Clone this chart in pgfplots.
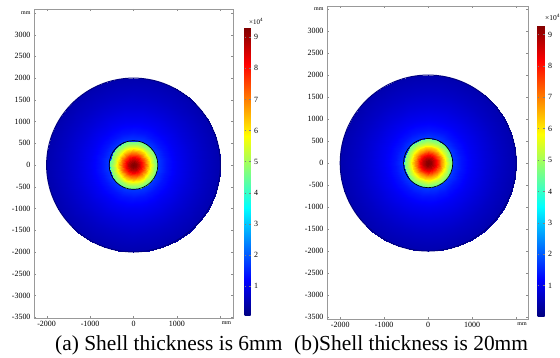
\documentclass[border=0pt]{standalone}
\usepackage{pgfplots}
\pgfplotsset{compat=1.18}
\usepackage{pgfplotstable}
\usepackage{fontspec}
\setmainfont{Liberation Serif}

\pgfplotstableread{
a r c
0 0 9.30
0 60 9.15
0 120 8.75
0 180 8.20
0 240 7.55
0 300 6.85
0 360 6.15
0 420 5.50
0 490 4.90
0 560 4.45
0 561 1.70
0 750 1.35
0 1000 1.08
0 1300 0.85
0 1600 0.66
0 2008 0.45
10 0 9.30
10 60 9.15
10 120 8.75
10 180 8.20
10 240 7.55
10 300 6.85
10 360 6.15
10 420 5.50
10 490 4.90
10 560 4.45
10 561 1.70
10 750 1.35
10 1000 1.08
10 1300 0.85
10 1600 0.66
10 2008 0.45
20 0 9.30
20 60 9.15
20 120 8.75
20 180 8.20
20 240 7.55
20 300 6.85
20 360 6.15
20 420 5.50
20 490 4.90
20 560 4.45
20 561 1.70
20 750 1.35
20 1000 1.08
20 1300 0.85
20 1600 0.66
20 2008 0.45
30 0 9.30
30 60 9.15
30 120 8.75
30 180 8.20
30 240 7.55
30 300 6.85
30 360 6.15
30 420 5.50
30 490 4.90
30 560 4.45
30 561 1.70
30 750 1.35
30 1000 1.08
30 1300 0.85
30 1600 0.66
30 2008 0.45
40 0 9.30
40 60 9.15
40 120 8.75
40 180 8.20
40 240 7.55
40 300 6.85
40 360 6.15
40 420 5.50
40 490 4.90
40 560 4.45
40 561 1.70
40 750 1.35
40 1000 1.08
40 1300 0.85
40 1600 0.66
40 2008 0.45
50 0 9.30
50 60 9.15
50 120 8.75
50 180 8.20
50 240 7.55
50 300 6.85
50 360 6.15
50 420 5.50
50 490 4.90
50 560 4.45
50 561 1.70
50 750 1.35
50 1000 1.08
50 1300 0.85
50 1600 0.66
50 2008 0.45
60 0 9.30
60 60 9.15
60 120 8.75
60 180 8.20
60 240 7.55
60 300 6.85
60 360 6.15
60 420 5.50
60 490 4.90
60 560 4.45
60 561 1.70
60 750 1.35
60 1000 1.08
60 1300 0.85
60 1600 0.66
60 2008 0.45
70 0 9.30
70 60 9.15
70 120 8.75
70 180 8.20
70 240 7.55
70 300 6.85
70 360 6.15
70 420 5.50
70 490 4.90
70 560 4.45
70 561 1.70
70 750 1.35
70 1000 1.08
70 1300 0.85
70 1600 0.66
70 2008 0.45
80 0 9.30
80 60 9.15
80 120 8.75
80 180 8.20
80 240 7.55
80 300 6.85
80 360 6.15
80 420 5.50
80 490 4.90
80 560 4.45
80 561 1.70
80 750 1.35
80 1000 1.08
80 1300 0.85
80 1600 0.66
80 2008 0.45
90 0 9.30
90 60 9.15
90 120 8.75
90 180 8.20
90 240 7.55
90 300 6.85
90 360 6.15
90 420 5.50
90 490 4.90
90 560 4.45
90 561 1.70
90 750 1.35
90 1000 1.08
90 1300 0.85
90 1600 0.66
90 2008 0.45
100 0 9.30
100 60 9.15
100 120 8.75
100 180 8.20
100 240 7.55
100 300 6.85
100 360 6.15
100 420 5.50
100 490 4.90
100 560 4.45
100 561 1.70
100 750 1.35
100 1000 1.08
100 1300 0.85
100 1600 0.66
100 2008 0.45
110 0 9.30
110 60 9.15
110 120 8.75
110 180 8.20
110 240 7.55
110 300 6.85
110 360 6.15
110 420 5.50
110 490 4.90
110 560 4.45
110 561 1.70
110 750 1.35
110 1000 1.08
110 1300 0.85
110 1600 0.66
110 2008 0.45
120 0 9.30
120 60 9.15
120 120 8.75
120 180 8.20
120 240 7.55
120 300 6.85
120 360 6.15
120 420 5.50
120 490 4.90
120 560 4.45
120 561 1.70
120 750 1.35
120 1000 1.08
120 1300 0.85
120 1600 0.66
120 2008 0.45
130 0 9.30
130 60 9.15
130 120 8.75
130 180 8.20
130 240 7.55
130 300 6.85
130 360 6.15
130 420 5.50
130 490 4.90
130 560 4.45
130 561 1.70
130 750 1.35
130 1000 1.08
130 1300 0.85
130 1600 0.66
130 2008 0.45
140 0 9.30
140 60 9.15
140 120 8.75
140 180 8.20
140 240 7.55
140 300 6.85
140 360 6.15
140 420 5.50
140 490 4.90
140 560 4.45
140 561 1.70
140 750 1.35
140 1000 1.08
140 1300 0.85
140 1600 0.66
140 2008 0.45
150 0 9.30
150 60 9.15
150 120 8.75
150 180 8.20
150 240 7.55
150 300 6.85
150 360 6.15
150 420 5.50
150 490 4.90
150 560 4.45
150 561 1.70
150 750 1.35
150 1000 1.08
150 1300 0.85
150 1600 0.66
150 2008 0.45
160 0 9.30
160 60 9.15
160 120 8.75
160 180 8.20
160 240 7.55
160 300 6.85
160 360 6.15
160 420 5.50
160 490 4.90
160 560 4.45
160 561 1.70
160 750 1.35
160 1000 1.08
160 1300 0.85
160 1600 0.66
160 2008 0.45
170 0 9.30
170 60 9.15
170 120 8.75
170 180 8.20
170 240 7.55
170 300 6.85
170 360 6.15
170 420 5.50
170 490 4.90
170 560 4.45
170 561 1.70
170 750 1.35
170 1000 1.08
170 1300 0.85
170 1600 0.66
170 2008 0.45
180 0 9.30
180 60 9.15
180 120 8.75
180 180 8.20
180 240 7.55
180 300 6.85
180 360 6.15
180 420 5.50
180 490 4.90
180 560 4.45
180 561 1.70
180 750 1.35
180 1000 1.08
180 1300 0.85
180 1600 0.66
180 2008 0.45
190 0 9.30
190 60 9.15
190 120 8.75
190 180 8.20
190 240 7.55
190 300 6.85
190 360 6.15
190 420 5.50
190 490 4.90
190 560 4.45
190 561 1.70
190 750 1.35
190 1000 1.08
190 1300 0.85
190 1600 0.66
190 2008 0.45
200 0 9.30
200 60 9.15
200 120 8.75
200 180 8.20
200 240 7.55
200 300 6.85
200 360 6.15
200 420 5.50
200 490 4.90
200 560 4.45
200 561 1.70
200 750 1.35
200 1000 1.08
200 1300 0.85
200 1600 0.66
200 2008 0.45
210 0 9.30
210 60 9.15
210 120 8.75
210 180 8.20
210 240 7.55
210 300 6.85
210 360 6.15
210 420 5.50
210 490 4.90
210 560 4.45
210 561 1.70
210 750 1.35
210 1000 1.08
210 1300 0.85
210 1600 0.66
210 2008 0.45
220 0 9.30
220 60 9.15
220 120 8.75
220 180 8.20
220 240 7.55
220 300 6.85
220 360 6.15
220 420 5.50
220 490 4.90
220 560 4.45
220 561 1.70
220 750 1.35
220 1000 1.08
220 1300 0.85
220 1600 0.66
220 2008 0.45
230 0 9.30
230 60 9.15
230 120 8.75
230 180 8.20
230 240 7.55
230 300 6.85
230 360 6.15
230 420 5.50
230 490 4.90
230 560 4.45
230 561 1.70
230 750 1.35
230 1000 1.08
230 1300 0.85
230 1600 0.66
230 2008 0.45
240 0 9.30
240 60 9.15
240 120 8.75
240 180 8.20
240 240 7.55
240 300 6.85
240 360 6.15
240 420 5.50
240 490 4.90
240 560 4.45
240 561 1.70
240 750 1.35
240 1000 1.08
240 1300 0.85
240 1600 0.66
240 2008 0.45
250 0 9.30
250 60 9.15
250 120 8.75
250 180 8.20
250 240 7.55
250 300 6.85
250 360 6.15
250 420 5.50
250 490 4.90
250 560 4.45
250 561 1.70
250 750 1.35
250 1000 1.08
250 1300 0.85
250 1600 0.66
250 2008 0.45
260 0 9.30
260 60 9.15
260 120 8.75
260 180 8.20
260 240 7.55
260 300 6.85
260 360 6.15
260 420 5.50
260 490 4.90
260 560 4.45
260 561 1.70
260 750 1.35
260 1000 1.08
260 1300 0.85
260 1600 0.66
260 2008 0.45
270 0 9.30
270 60 9.15
270 120 8.75
270 180 8.20
270 240 7.55
270 300 6.85
270 360 6.15
270 420 5.50
270 490 4.90
270 560 4.45
270 561 1.70
270 750 1.35
270 1000 1.08
270 1300 0.85
270 1600 0.66
270 2008 0.45
280 0 9.30
280 60 9.15
280 120 8.75
280 180 8.20
280 240 7.55
280 300 6.85
280 360 6.15
280 420 5.50
280 490 4.90
280 560 4.45
280 561 1.70
280 750 1.35
280 1000 1.08
280 1300 0.85
280 1600 0.66
280 2008 0.45
290 0 9.30
290 60 9.15
290 120 8.75
290 180 8.20
290 240 7.55
290 300 6.85
290 360 6.15
290 420 5.50
290 490 4.90
290 560 4.45
290 561 1.70
290 750 1.35
290 1000 1.08
290 1300 0.85
290 1600 0.66
290 2008 0.45
300 0 9.30
300 60 9.15
300 120 8.75
300 180 8.20
300 240 7.55
300 300 6.85
300 360 6.15
300 420 5.50
300 490 4.90
300 560 4.45
300 561 1.70
300 750 1.35
300 1000 1.08
300 1300 0.85
300 1600 0.66
300 2008 0.45
310 0 9.30
310 60 9.15
310 120 8.75
310 180 8.20
310 240 7.55
310 300 6.85
310 360 6.15
310 420 5.50
310 490 4.90
310 560 4.45
310 561 1.70
310 750 1.35
310 1000 1.08
310 1300 0.85
310 1600 0.66
310 2008 0.45
320 0 9.30
320 60 9.15
320 120 8.75
320 180 8.20
320 240 7.55
320 300 6.85
320 360 6.15
320 420 5.50
320 490 4.90
320 560 4.45
320 561 1.70
320 750 1.35
320 1000 1.08
320 1300 0.85
320 1600 0.66
320 2008 0.45
330 0 9.30
330 60 9.15
330 120 8.75
330 180 8.20
330 240 7.55
330 300 6.85
330 360 6.15
330 420 5.50
330 490 4.90
330 560 4.45
330 561 1.70
330 750 1.35
330 1000 1.08
330 1300 0.85
330 1600 0.66
330 2008 0.45
340 0 9.30
340 60 9.15
340 120 8.75
340 180 8.20
340 240 7.55
340 300 6.85
340 360 6.15
340 420 5.50
340 490 4.90
340 560 4.45
340 561 1.70
340 750 1.35
340 1000 1.08
340 1300 0.85
340 1600 0.66
340 2008 0.45
350 0 9.30
350 60 9.15
350 120 8.75
350 180 8.20
350 240 7.55
350 300 6.85
350 360 6.15
350 420 5.50
350 490 4.90
350 560 4.45
350 561 1.70
350 750 1.35
350 1000 1.08
350 1300 0.85
350 1600 0.66
350 2008 0.45
360 0 9.30
360 60 9.15
360 120 8.75
360 180 8.20
360 240 7.55
360 300 6.85
360 360 6.15
360 420 5.50
360 490 4.90
360 560 4.45
360 561 1.70
360 750 1.35
360 1000 1.08
360 1300 0.85
360 1600 0.66
360 2008 0.45
}\fieldtable

\pgfplotsset{
  /pgf/number format/assume math mode=true,
  panel/.style={
    scale only axis,
    anchor=south west,
    axis line style={black!40},
    tick style={black!45},
    major tick length=2bp,
    tick align=inside,
    xtick pos=both, ytick pos=both,
    xticklabel pos=lower, yticklabel pos=left,
    ticklabel style={font=\fontsize{8}{8}\selectfont},
    xtick={-2000,-1000,0,1000,2000},
    xticklabels={-2000,-1000,0,1000,{\hspace{12bp}\fontsize{6}{6}\selectfont mm}},
    ytick={-3500,-3000,...,3500},
    yticklabels={-3500,-3000,-2500,-2000,-1500,-1000,-500,0,500,1000,1500,2000,2500,3000,{\fontsize{6}{6}\selectfont mm\hspace{9bp}}},
    colormap/jet,
    point meta min=0.03, point meta max=9.3,
    colorbar,
  },
  cbar/.style={
    scale only axis,
    ytick={1,2,...,9},
    yticklabel pos=right,
    yticklabel style={font=\fontsize{8}{8}\selectfont},
    axis line style={draw=none},
    major tick length=1.5bp,
    tick style={black!50},
  },
  fieldplot/.style={surf, shader=interp, data cs=polar, mesh/rows=37, mesh/cols=16, point meta=explicit},
}

\begin{document}
\begin{tikzpicture}
\useasboundingbox (0,0) rectangle (560bp,358bp);

% panel (a)
\begin{axis}[panel,
  at={(34bp,40bp)}, width=199bp, height=309bp,
  xmin=-2290, xmax=2290, ymin=-3520, ymax=3590,
  colorbar style={cbar, width=6bp, height=288bp,
    at={(parent axis.north east)}, anchor=north west, xshift=3bp, yshift=-19bp},
]
\addplot[fieldplot] table[x=a, y=r, meta=c] {\fieldtable};
\draw[fill=none, draw={rgb,1:red,0;green,0;blue,0.5}, line width=1pt] (axis cs:0,0) circle[radius=2000];
\draw[black, line width=0.7pt] (axis cs:0,0) circle[radius=560];
\end{axis}

% panel (b)
\begin{axis}[panel,
  at={(327bp,39bp)}, width=201bp, height=313bp,
  xmin=-2300, xmax=2270, ymin=-3545, ymax=3570,
  colorbar style={cbar, width=7bp, height=291bp,
    at={(parent axis.north east)}, anchor=north west, xshift=1bp, yshift=-19bp},
]
\addplot[fieldplot] table[x=a, y=r, meta=c] {\fieldtable};
\draw[fill=none, draw={rgb,1:red,0;green,0;blue,0.5}, line width=1pt] (axis cs:0,0) circle[radius=2000];
\draw[black, line width=0.7pt] (axis cs:0,0) circle[radius=560];
\end{axis}

\node[anchor=west, inner sep=0, font=\fontsize{7}{7}\selectfont] at (249bp,337bp) {×10\textsuperscript{4}};
\node[anchor=west, inner sep=0, font=\fontsize{7.5}{7.5}\selectfont] at (545bp,341bp) {×10\textsuperscript{4}};

\node[anchor=base west, inner sep=0, font=\fontsize{21.5}{24}\selectfont] at (55bp,8bp) {(a) Shell thickness is 6mm};
\node[anchor=base west, inner sep=0, font=\fontsize{21.5}{24}\selectfont] at (294bp,8bp) {(b)Shell thickness is 20mm};
\end{tikzpicture}
\end{document}
